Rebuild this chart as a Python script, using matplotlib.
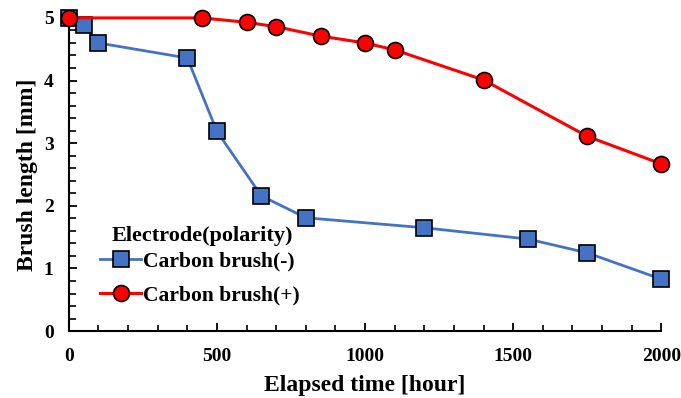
import matplotlib
matplotlib.use("Agg")
import matplotlib.pyplot as plt
from matplotlib.ticker import MultipleLocator

plt.rcParams['font.family'] = ['Liberation Serif', 'DejaVu Serif']
plt.rcParams['font.weight'] = 'bold'

# Brush wear data
neg_hours = [0, 50, 100, 400, 500, 650, 800, 1200, 1550, 1750, 2000]
neg_length = [5.0, 4.89, 4.6, 4.36, 3.19, 2.16, 1.81, 1.65, 1.47, 1.25, 0.83]

pos_hours = [0, 450, 600, 700, 850, 1000, 1100, 1400, 1750, 2000]
pos_length = [5.0, 5.0, 4.93, 4.86, 4.71, 4.6, 4.49, 4.01, 3.11, 2.67]

series_labels = ["Carbon brush(-)", "Carbon brush(+)"]
legend_title = "Electrode(polarity)"

fig = plt.figure(figsize=(6.81, 3.98), dpi=100)
ax = fig.add_axes([0.101, 0.168, 0.870, 0.787])

ax.plot(neg_hours, neg_length, color='#4472C4', lw=2.0, marker='s', ms=12,
        mfc='#4472C4', mec='black', mew=1.2, label=series_labels[0], clip_on=False, zorder=3)
ax.plot(pos_hours, pos_length, color='#FF0000', lw=2.2, marker='o', ms=11.5,
        mfc='#FF0000', mec='black', mew=1.2, label=series_labels[1], clip_on=False, zorder=4)

ax.set_xlim(0, 2000)
ax.set_ylim(0, 5)
ax.xaxis.set_major_locator(MultipleLocator(500))
ax.xaxis.set_minor_locator(MultipleLocator(100))
ax.yaxis.set_major_locator(MultipleLocator(1))
ax.yaxis.set_minor_locator(MultipleLocator(0.2))

for s in ['top', 'right']:
    ax.spines[s].set_visible(False)
for s in ['left', 'bottom']:
    ax.spines[s].set_linewidth(1.5)

ax.tick_params(axis='x', which='major', direction='in', length=6, width=1.3, labelsize=14, pad=12)
ax.tick_params(axis='x', which='minor', direction='in', length=4, width=1.2)
ax.tick_params(axis='y', which='major', direction='in', length=6, width=1.3, labelsize=14, pad=11)
ax.tick_params(axis='y', which='minor', direction='in', length=5, width=1.2)

ax.set_xlabel("Elapsed time [hour]", fontsize=17, fontweight='bold', labelpad=7)
ax.set_ylabel("Brush length [mm]", fontsize=17, fontweight='bold', labelpad=4)

leg = ax.legend(loc='upper left', bbox_to_anchor=(0.053, 0.255),
                frameon=False, fontsize=15.5, handlelength=1.9,
                handletextpad=0.1, labelspacing=0.65, borderaxespad=0.0,
                borderpad=0.0)
ax.text(0.073, 0.273, legend_title, transform=ax.transAxes, fontsize=16,
        fontweight='bold', ha='left', va='bottom')

fig.savefig("out.png", dpi=100)
